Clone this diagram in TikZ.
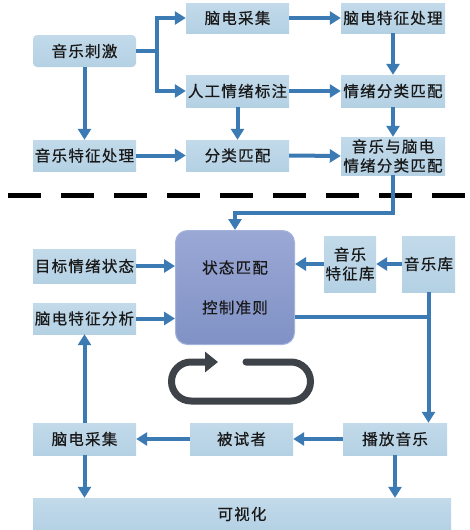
\documentclass[tikz,border=0pt]{standalone}
\usepackage{fontspec}
\setmainfont{Noto Sans CJK SC}[LetterSpace=8,FakeBold=0.6]
\usetikzlibrary{arrows.meta}
\definecolor{boxc}{RGB}{180,209,228}
\definecolor{boxtop}{RGB}{194,218,234}
\definecolor{arrc}{RGB}{59,122,178}
\definecolor{statetop}{RGB}{154,168,213}
\definecolor{statebot}{RGB}{128,145,197}
\definecolor{stateborder}{RGB}{165,178,220}
\definecolor{loopc}{RGB}{61,67,72}
\definecolor{txtc}{RGB}{25,25,25}
\begin{document}
\begin{tikzpicture}[x=1pt,y=-1pt,
  box/.style={top color=boxtop,bottom color=boxc,draw=none,inner sep=0pt,
    minimum width=103pt,minimum height=32pt,text=txtc,
    font=\fontsize{15.5}{19}\selectfont,align=center},
  arr/.style={draw=arrc,line width=4pt,-{Triangle[width=13pt,length=11pt]}},
  ln/.style={draw=arrc,line width=4pt},
  statebox/.style={top color=statetop,bottom color=statebot,draw=stateborder,line width=1pt,
    rounded corners=12pt,minimum width=119pt,minimum height=114pt,inner sep=0pt,
    text=txtc,font=\fontsize{15.5}{19}\selectfont,align=center}
]
\useasboundingbox (0,0) rectangle (470,530);
% dashed separator
\draw[line width=5pt,dash pattern=on 33pt off 20pt] (8,195) -- (470,195);
% top part nodes
\node[box,rounded corners=4pt] (m1) at (84.5,51) {音乐刺激};
\node[box,minimum height=30pt] (e1) at (237.5,18) {脑电采集};
\node[box,minimum height=30pt,minimum width=104pt] (ef) at (393,18) {脑电特征处理};
\node[box] (ann) at (237.5,91) {人工情绪标注};
\node[box,minimum width=104pt] (ec) at (393,91) {情绪分类匹配};
\node[box,minimum height=31pt] (mf) at (84.5,155.5) {音乐特征处理};
\node[box,minimum height=31pt] (cm) at (237.5,155.5) {分类匹配};
\node[box,minimum height=38pt,minimum width=104pt] (me) at (393,156) {音乐与脑电\\情绪分类匹配};
% top edges
\coordinate (j1) at (157,51);
\draw[ln] (m1.east) -- (j1);
\draw[arr] (j1) |- (e1.west);
\draw[arr] (j1) |- (ann.west);
\draw[arr] (e1.east) -- (ef.west);
\draw[arr] (ef.south) -- (ec.north);
\draw[arr] (ann.east) -- (ec.west);
\draw[arr] (ann.south) -- (cm.north);
\draw[arr] (ec.south) -- (me.north);
\draw[arr] (m1.south) -- (mf.north);
\draw[arr] (mf.east) -- (cm.west);
\draw[arr] (cm.east) -- (me.west);
% bottom part nodes
\node[statebox] (state) at (235,287.5) {状态匹配\\[21pt]控制准则};
\node[box,minimum height=34pt] (target) at (84.5,266) {目标情绪状态};
\node[box,minimum height=31pt] (eega) at (84.5,318.5) {脑电特征分析};
\node[box,minimum width=52pt,minimum height=56pt] (mfl) at (350,264) {音乐\\特征库};
\node[box,minimum width=53pt,minimum height=56pt] (ml) at (428.5,264) {音乐库};
\node[box] (e2) at (84.5,439) {脑电采集};
\node[box] (subj) at (241.5,439) {被试者};
\node[box,minimum width=104pt] (play) at (395,439) {播放音乐};
\node[box,minimum width=418pt] (vis) at (242,514) {可视化};
% bottom edges
\coordinate (t1) at (235,213);
\draw[arr] (me.south) |- (t1) -- (state.north);
\draw[arr] (target.east) -- (target.east -| state.west);
\draw[arr] (eega.east) -- (eega.east -| state.west);
\draw[arr] (mfl.west) -- (mfl.west -| state.east);
\draw[arr] (ml.west) -- (mfl.east);
\coordinate (s1) at (295,317);
\coordinate (j2) at (428.5,317);
\draw[ln] (s1) -- (j2);
\draw[arr] (ml.south) -- (ml.south |- play.north);
\draw[arr] (play.west) -- (subj.east);
\draw[arr] (subj.west) -- (e2.east);
\draw[arr] (e2.north) -- (eega.south);
\draw[arr] (e2.south) -- (e2.south |- vis.north);
\draw[arr] (play.south) -- (play.south |- vis.north);
% cycle icon
\draw[draw=loopc,line width=7pt,rounded corners=19.5pt,line cap=round,
  -{Triangle[width=20pt,length=13pt]}]
  (246,362) -- (310.5,362) -- (310.5,401) -- (171.5,401) -- (171.5,362) -- (218,362);
\end{tikzpicture}
\end{document}
